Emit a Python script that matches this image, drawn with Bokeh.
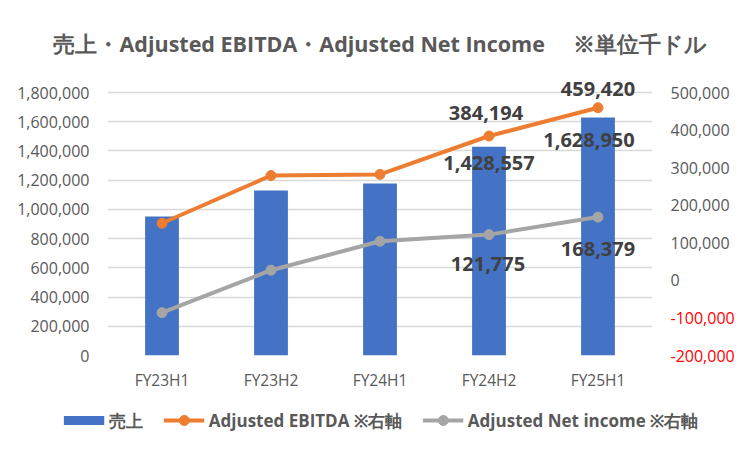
from bokeh.plotting import figure
from bokeh.layouts import column
from bokeh.models import (ColumnDataSource, Range1d, LinearAxis, FixedTicker,
                          NumeralTickFormatter, Legend, LegendItem, Label, FactorRange)
from bokeh.embed import file_html
from bokeh.resources import INLINE

# ---- data ----
categories = ["FY23H1", "FY23H2", "FY24H1", "FY24H2", "FY25H1"]
sales = [952000, 1130000, 1178000, 1428557, 1628950]
ebitda = [152000, 279000, 282000, 384194, 459420]
net_income = [-86000, 27000, 104000, 121775, 168379]

left_ticks = [0, 200000, 400000, 600000, 800000, 1000000, 1200000, 1400000, 1600000, 1800000]
right_ticks = [0, 100000, 200000, 300000, 400000, 500000]
right_neg_ticks = [-200000, -100000]
labeled_categories = ["FY24H2", "FY25H1"]

title_text = "売上・Adjusted EBITDA・Adjusted Net Income\u3000 ※単位千ドル"
legend_labels = ["売上", "Adjusted EBITDA ※右軸", "Adjusted Net income ※右軸"]

# ---- styles / layout ----
BLUE = "#4472C4"
ORANGE = "#ED7D31"
GRAY = "#A5A5A5"
TXT = "#595959"
LBL = "#404040"
FONT = "Open Sans"

GRID_PX = 263      # height of the gridded area
HEAD_PX = 16       # free room above the top gridline (for data labels)
left_top = left_ticks[-1] * (GRID_PX + HEAD_PX) / GRID_PX
r_lo, r_hi = right_neg_ticks[0], right_ticks[-1]
right_top = r_lo + (r_hi - r_lo) * (GRID_PX + HEAD_PX) / GRID_PX

src = ColumnDataSource(dict(cat=categories, sales=sales, ebitda=ebitda, ni=net_income))

p = figure(x_range=FactorRange(factors=categories, range_padding=0, factor_padding=0),
           y_range=Range1d(0, left_top),
           width=752, height=400, output_backend="svg", toolbar_location=None,
           min_border_left=107, min_border_right=100, min_border_top=76, min_border_bottom=45)
p.extra_y_ranges = {"y2": Range1d(r_lo, right_top)}
p.outline_line_color = None
p.background_fill_color = "white"
p.border_fill_color = "white"
p.frame_align = False

# title
p.title.text = title_text
p.title.align = "center"
p.title.offset = -4
p.title.standoff = 37
p.title.text_font = FONT
p.title.text_font_size = "21.5px"
p.title.text_font_style = "bold"
p.title.text_color = TXT

# grid
p.xgrid.grid_line_color = None
p.ygrid.grid_line_color = "#D9D9D9"
p.ygrid.grid_line_width = 1.5

# glyphs
p.vbar(x="cat", top="sales", width=0.31, source=src, fill_color=BLUE, line_color=None)
p.line(x="cat", y="ebitda", source=src, y_range_name="y2", line_color=ORANGE, line_width=4)
p.scatter(x="cat", y="ebitda", source=src, y_range_name="y2", size=10,
          fill_color=ORANGE, line_color=ORANGE)
p.line(x="cat", y="ni", source=src, y_range_name="y2", line_color=GRAY, line_width=4)
p.scatter(x="cat", y="ni", source=src, y_range_name="y2", size=10,
          fill_color=GRAY, line_color=GRAY)

# axes
def style_axis(ax, size="16px", color=TXT):
    ax.axis_line_color = None
    ax.major_tick_line_color = None
    ax.minor_tick_line_color = None
    ax.major_tick_out = 0
    ax.major_tick_in = 0
    ax.minor_tick_out = 0
    ax.major_label_text_font = FONT
    ax.major_label_text_font_size = size
    ax.major_label_text_color = color

yl = p.yaxis[0]
yl.ticker = FixedTicker(ticks=left_ticks)
yl.formatter = NumeralTickFormatter(format="0,0")
yl.major_label_standoff = 18
style_axis(yl)

# right axis: grey labels for 0 and above
yr = LinearAxis(y_range_name="y2", ticker=FixedTicker(ticks=right_ticks),
                formatter=NumeralTickFormatter(format="0,0"))
yr.major_label_standoff = 18
style_axis(yr)
p.add_layout(yr, "right")

# right axis: red labels for negative values, pulled back onto the same column
yr_neg = LinearAxis(y_range_name="y2", ticker=FixedTicker(ticks=right_neg_ticks),
                    formatter=NumeralTickFormatter(format="0,0"))
yr_neg.major_label_standoff = -62
style_axis(yr_neg, color="#FF0000")
p.add_layout(yr_neg, "right")

xa = p.xaxis[0]
xa.major_label_standoff = 13
style_axis(xa, "15.5px")

# position of a category centre on the factor range (factors sit at 0.5, 1.5, ...)
def cat_x(c):
    return categories.index(c) + 0.5

# data labels (only FY24H2 and FY25H1 are labelled)
label_specs = [(sales, "default", [0, -9], [-16, -23]),
               (ebitda, "y2", [-3, 0], [23, 19]),
               (net_income, "y2", [-1, 0], [-29, -32])]
for values, rng, dxs, dys in label_specs:
    for c, dx, dy in zip(labeled_categories, dxs, dys):
        v = values[categories.index(c)]
        p.add_layout(Label(x=cat_x(c), y=v, text=f"{v:,}", y_range_name=rng,
                           x_offset=dx, y_offset=dy,
                           text_align="center", text_baseline="middle",
                           text_font=FONT, text_font_size="20px", text_font_style="bold",
                           text_color=LBL))

# legend row (separate strip under the chart)
lg = figure(width=752, height=40, output_backend="svg", toolbar_location=None,
            x_range=Range1d(0, 1), y_range=Range1d(0, 1),
            x_axis_location=None, y_axis_location=None,
            min_border_left=9, min_border_right=0, min_border_top=0, min_border_bottom=0)
lg.frame_align = False
lg.outline_line_color = None
lg.grid.grid_line_color = None
nan = float("nan")
sw_bar = lg.line(x=[0], y=[nan], line_color=BLUE, line_width=9)
sw_eb_l = lg.line(x=[0], y=[nan], line_color=ORANGE, line_width=4)
sw_eb_p = lg.scatter(x=[0], y=[nan], fill_color=ORANGE, line_color=ORANGE)
sw_ni_l = lg.line(x=[0], y=[nan], line_color=GRAY, line_width=4)
sw_ni_p = lg.scatter(x=[0], y=[nan], fill_color=GRAY, line_color=GRAY)

legend = Legend(items=[LegendItem(label=legend_labels[0], renderers=[sw_bar]),
                       LegendItem(label=legend_labels[1], renderers=[sw_eb_l, sw_eb_p]),
                       LegendItem(label=legend_labels[2], renderers=[sw_ni_l, sw_ni_p])],
                orientation="horizontal", location="center",
                glyph_width=41, glyph_height=25, label_standoff=5, spacing=20,
                padding=0, margin=0, border_line_color=None, background_fill_alpha=0,
                label_text_font=FONT, label_text_font_style="bold",
                label_text_font_size="17px", label_text_color=TXT)
lg.add_layout(legend, "center")

open("out.html", "w").write(file_html(column(p, lg, spacing=0), INLINE))
